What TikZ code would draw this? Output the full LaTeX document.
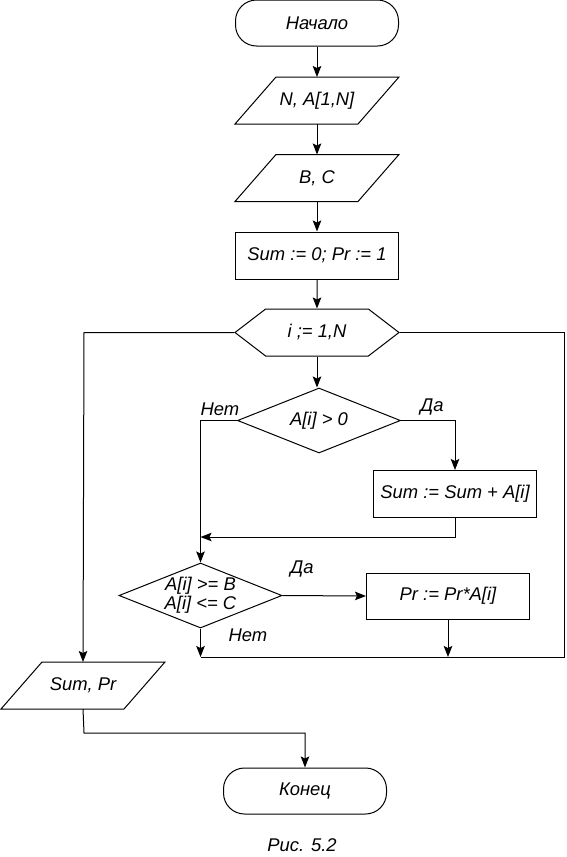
\documentclass[tikz,border=0pt]{standalone}
\usepackage{fontspec}
\setmainfont{Liberation Sans}
\usetikzlibrary{shapes.geometric,shapes.symbols,arrows.meta}
\begin{document}
\begin{tikzpicture}[x=1pt,y=-1pt,
  every node/.style={font=\fontsize{18.4}{21}\selectfont\itshape, inner sep=0pt, line width=1pt},
  term/.style={draw, rectangle, rounded corners=21pt, minimum width=163pt, minimum height=46pt},
  io/.style={rectangle, minimum width=122pt, minimum height=46pt},
  proc/.style={draw, rectangle, minimum width=163pt, minimum height=47pt},
  loopbox/.style={draw, signal, signal to=west and east, signal pointer angle=75, minimum width=164pt, minimum height=47pt},
  cond/.style={draw, diamond, minimum width=163pt, minimum height=65pt, aspect=2.5},
  lbl/.style={font=\fontsize{18.4}{21}\selectfont\itshape},
  conn/.style={line width=1pt},
  arr/.style={conn, -{Stealth[length=11pt,width=8.5pt,inset=2pt]}}
]
\useasboundingbox (0,0) rectangle (566,857);
\node[term] (start) at (317,23) {Начало};
\node[io] (in1) at (317,100.5) {N, A[1,N]};
\node[io] (in2) at (317,178) {B, C};
\node[proc] (init) at (317,255.5) {Sum := 0; Pr := 1};
\node[loopbox] (loop) at (317,332.5) {i ;= 1,N};
\node[cond] (d1) at (319,420.5) {A[i] > 0};
\node[proc] (sum) at (455,494) {Sum := Sum + A[i]};
\node[cond, align=center, font=\fontsize{18.4}{19}\selectfont\itshape] (d2) at (200.5,595.5) {A[i] >= B\\A[i] <= C};
\node[proc, minimum height=46pt] (pr) at (448,596) {Pr := Pr*A[i]};
\node[io] (out) at (83,685.5) {Sum, Pr};
\node[term] (end) at (305,791) {Конец};
\node[lbl] (no1) at (220,409) {Нет};
\node[lbl] (yes1) at (432,407) {Да};
\node[lbl] (yes2) at (302,569) {Да};
\node[lbl] (no2) at (248,635) {Нет};
\node[lbl] (cap) at (302,845) {Рис. 5.2};

% parallelogram outlines
\foreach \n in {in1,in2,out}{
  \draw[conn, line join=miter] ([xshift=-20.5pt]\n.south west) -- ([xshift=20.5pt]\n.north west)
    -- ([xshift=20.5pt]\n.north east) -- ([xshift=-20.5pt]\n.south east) -- cycle;
}

\coordinate (L) at (84,332.5);
\coordinate (R) at (564,332.5);
\coordinate (J) at (200.5,657);
\coordinate (RJ) at (564,657);
\coordinate (S1) at (455,537);
\coordinate (O1) at (84,733);
\coordinate (O2) at (305,733);

\draw[arr] (start) -- (in1);
\draw[arr] (in1) -- (in2);
\draw[arr] (in2) -- (init);
\draw[arr] (init) -- (loop);
\draw[arr] (loop.south) -- (loop.south |- d1.north);
\draw[arr] (loop.west) -- (L) -- (out.north);
\draw[conn] (loop.east) -- (R) -- (RJ) -- (J);
\draw[arr] (d1.west) -- (d1.west -| d2.north) -- (d2.north);
\draw[arr] (d1.east) -- (d1.east -| sum.north) -- (sum.north);
\draw[arr] (sum.south) -- (S1) -- (S1 -| d2.north);
\draw[arr] (d2.east) -- (pr.west);
\draw[arr] (d2.south) -- (J);
\draw[arr] (pr.south) -- (pr.south |- J);
\draw[arr] (out.south) -- (O1) -- (O2) -- (end.north);
\end{tikzpicture}
\end{document}
